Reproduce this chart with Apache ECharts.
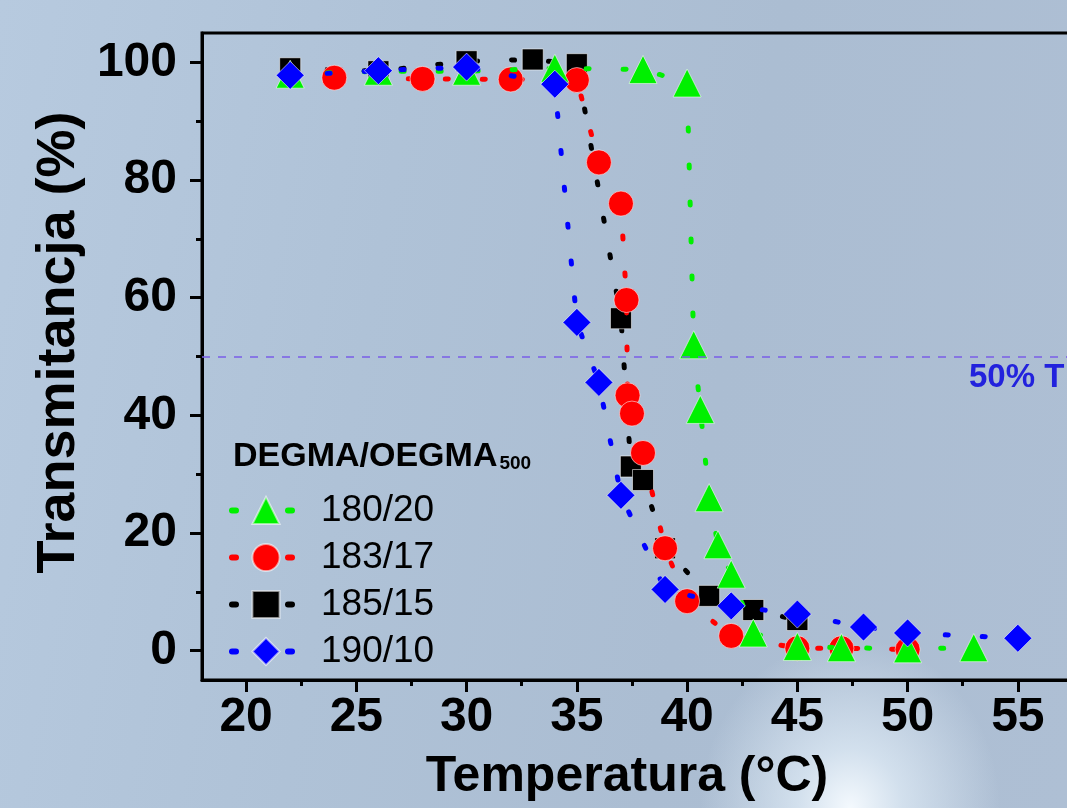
<!DOCTYPE html>
<html><head><meta charset="utf-8">
<script src="https://cdn.jsdelivr.net/npm/echarts@6/dist/echarts.min.js"></script>
<style>
html,body{margin:0;padding:0;width:1067px;height:808px;overflow:hidden;}
body{background:
 radial-gradient(ellipse 150px 170px at 850px 808px, rgba(246,251,255,0.97) 0%, rgba(226,238,248,0.7) 35%, rgba(200,218,235,0) 100%),
 linear-gradient(100deg, #b7cadf 0%, #afc2d7 35%, #abbdd2 65%, #aebfd4 100%);}
#chart{width:1100px;height:808px;}
</style></head>
<body>
<div id="chart"></div>
<script>
// ---- data ----
const xTicks = [20,25,30,35,40,45,50,55];
const xMinorTicks = [22.5,27.5,32.5,37.5,42.5,47.5,52.5,57.5];
const yTicks = [0,20,40,60,80,100];
const yMinorTicks = [10,30,50,70,90];
const seriesNames = ['180/20','183/17','185/15','190/10'];

const t180 = [22,26,30,34,38,40,40.3,40.6,41,41.4,42,43,45,47,50,53];
const v180 = [98,98.5,98.5,99,98.8,96.5,52,41,26,18,13,3,0.7,0.5,0.3,0.5];
const t183 = [24,28,32,35,36,37,37.25,37.3,37.5,38,39,40,42,45,47,50];
const v183 = [97.4,97.2,97.1,97,83,76,59.6,43.4,40.3,33.6,17.4,8.4,2.5,0.4,0.4,0.2];
const t185 = [22,26,30,33,35,37,37.45,38,39,41,43,45];
const v185 = [99,98.5,100.2,100.5,99.7,56.5,31.3,29,17.4,9.3,6.9,5.2];
const t190 = [22,26,30,34,35,36,37,39,42,45,48,50,55];
const v190 = [97.8,98.6,99.2,96.3,55.8,45.6,26.4,10.4,7.6,6.2,4.0,3.0,2.1];
const halfLine = 50;
const halfLabel = '50% T';
const legendTitle = 'DEGMA/OEGMA';
const legendSub = '500';

function pairs(xs, ys){ return xs.map((x,i)=>[x, ys[i]]); }

const FONT = 'Liberation Sans, Arial, sans-serif';
const chart = echarts.init(document.getElementById('chart'), null, {renderer:'canvas'});

function mk(name, color, symbol, size, xs, ys, z){
  return {
    name, type:'line', data:pairs(xs, ys), z,
    symbol, symbolSize:size, showSymbol:true, animation:false,
    itemStyle:{color, borderColor:'rgba(255,255,255,0.55)', borderWidth:1},
    lineStyle:{color, width:5, type:[3,34], cap:'round'},
    emphasis:{disabled:true}
  };
}

const option = {
  backgroundColor:'transparent',
  animation:false,
  grid:{left:202, right:16, top:33, bottom:128, show:true, borderColor:'#000', borderWidth:3, backgroundColor:'transparent'},
  xAxis:[{
    type:'value', min:18, max:58, position:'bottom',
    name:'Temperatura (°C)', nameLocation:'middle', nameGap:72,
    nameTextStyle:{fontFamily:FONT, fontWeight:'bold', fontSize:50, color:'#000', padding:[0,32,0,0]},
    axisLine:{show:true, onZero:false, lineStyle:{color:'#000', width:3}},
    axisTick:{show:true, customValues:xTicks, length:12, lineStyle:{color:'#000', width:3}},
    axisLabel:{show:true, customValues:xTicks, fontFamily:FONT, fontWeight:'bold', fontSize:48, color:'#000', margin:14},
    splitLine:{show:false}
  },{
    type:'value', min:18, max:58, position:'bottom', gridIndex:0,
    axisLine:{show:false, onZero:false},
    axisTick:{show:true, customValues:xMinorTicks, length:6, lineStyle:{color:'#000', width:3}},
    axisLabel:{show:false}, splitLine:{show:false}
  }],
  yAxis:[{
    type:'value', min:-5, max:105, position:'left',
    name:'Transmitancja (%)', nameLocation:'middle', nameGap:78, nameRotate:90,
    nameTextStyle:{fontFamily:FONT, fontWeight:'bold', fontSize:54, color:'#000', padding:[0,0,0,28]},
    axisLine:{show:true, onZero:false, lineStyle:{color:'#000', width:3}},
    axisTick:{show:true, customValues:yTicks, length:12, lineStyle:{color:'#000', width:3}},
    axisLabel:{show:true, customValues:yTicks, fontFamily:FONT, fontWeight:'bold', fontSize:48, color:'#000', margin:25},
    splitLine:{show:false}
  },{
    type:'value', min:-5, max:105, position:'left', gridIndex:0,
    axisLine:{show:false, onZero:false},
    axisTick:{show:true, customValues:yMinorTicks, length:6, lineStyle:{color:'#000', width:3}},
    axisLabel:{show:false}, splitLine:{show:false}
  }],
  legend:{
    data:seriesNames, orient:'vertical', left:224, top:487,
    itemWidth:68, itemHeight:34, itemGap:10,
    lineStyle:{width:6, type:[4,52], cap:'round'},
    textStyle:{fontFamily:FONT, fontSize:37, color:'#000', lineHeight:34, padding:[0,0,0,16]},
    selectedMode:false
  },
  title:{
    left:228, top:432,
    text:'{a|' + legendTitle + '}{s|' + legendSub + '}',
    textStyle:{rich:{
      a:{fontFamily:FONT, fontSize:34, fontWeight:'bold', color:'#000', lineHeight:40},
      s:{fontFamily:FONT, fontSize:19, fontWeight:'bold', color:'#000', lineHeight:40, padding:[14,0,0,2]}
    }}
  },
  graphic:[{
    type:'text', left:969, top:361, z:10,
    style:{text:halfLabel, fontFamily:FONT, fontSize:33, fontWeight:'bold', fill:'#2222dd'}
  }],
  series:[
    Object.assign(mk(seriesNames[2], '#000000', 'rect', 21, t185, v185, 2), {xAxisIndex:0, yAxisIndex:0}),
    Object.assign(mk(seriesNames[1], '#ff0000', 'circle', 25, t183, v183, 3), {xAxisIndex:0, yAxisIndex:0}),
    Object.assign(mk(seriesNames[0], '#00f000', 'triangle', 28, t180, v180, 4), {xAxisIndex:0, yAxisIndex:0}),
    Object.assign(mk(seriesNames[3], '#0000ff', 'diamond', 28, t190, v190, 5), {xAxisIndex:0, yAxisIndex:0,
      markLine:{silent:true, symbol:'none', animation:false,
        lineStyle:{color:'#7a5ee8', width:1.5, type:[8,8]},
        label:{show:false},
        data:[{yAxis:halfLine}]}})
  ]
};
chart.setOption(option);
</script>
</body></html>
